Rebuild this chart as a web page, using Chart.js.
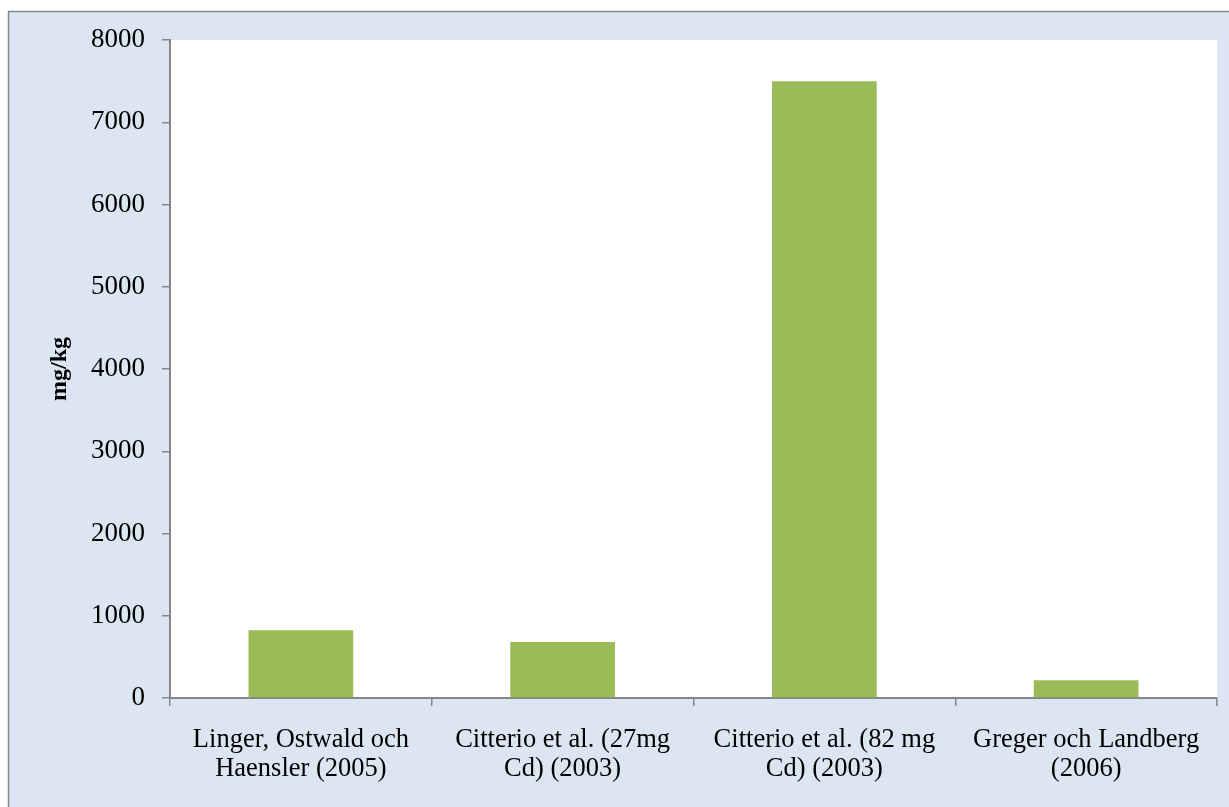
<!DOCTYPE html>
<html>
<head>
<meta charset="utf-8">
<script src="https://cdn.jsdelivr.net/npm/chart.js@4/dist/chart.umd.min.js"></script>
<style>
  html, body { margin: 0; padding: 0; background: #ffffff; }
  #wrap { width: 1229px; height: 807px; position: relative; }
</style>
</head>
<body>
<div id="wrap"><canvas id="c" width="1229" height="807"></canvas></div>
<script>
// Cadmium concentrations reported per study
const categories = [
  ['Linger, Ostwald och', 'Haensler (2005)'],
  ['Citterio et al. (27mg', 'Cd) (2003)'],
  ['Citterio et al. (82 mg', 'Cd) (2003)'],
  ['Greger och Landberg', '(2006)']
];
const values = [825, 680, 7500, 215];
const yTicks = [0, 1000, 2000, 3000, 4000, 5000, 6000, 7000, 8000];
const yTitle = 'mg/kg';

const serif = '"Liberation Serif", "Times New Roman", serif';

// Pale blue chart frame with a grey outline, white plot area inside it
const framePlugin = {
  id: 'frame',
  beforeDraw(chart) {
    const ctx = chart.ctx;
    const a = chart.chartArea;
    ctx.save();
    ctx.fillStyle = '#dce6f2';
    ctx.fillRect(8, 11, chart.width - 8, chart.height - 11);
    ctx.strokeStyle = '#868686';
    ctx.lineWidth = 1.5;
    ctx.beginPath();
    ctx.moveTo(8.5, chart.height);
    ctx.lineTo(8.5, 11.5);
    ctx.lineTo(chart.width, 11.5);
    ctx.stroke();
    ctx.fillStyle = '#ffffff';
    ctx.fillRect(a.left, a.top, a.right - a.left, a.bottom - a.top);
    ctx.restore();
  }
};

new Chart(document.getElementById('c'), {
  type: 'bar',
  data: {
    labels: categories,
    datasets: [{
      data: values,
      backgroundColor: '#9bbb59',
      borderWidth: 0,
      barPercentage: 0.4,
      categoryPercentage: 1.0
    }]
  },
  options: {
    responsive: false,
    animation: false,
    devicePixelRatio: 1,
    layout: { padding: { top: 40, right: 12, left: 0, bottom: 0 } },
    plugins: {
      legend: { display: false },
      tooltip: { enabled: false }
    },
    scales: {
      x: {
        grid: {
          offset: true,
          drawOnChartArea: false,
          drawTicks: true,
          tickLength: 8,
          color: '#868686',
          lineWidth: 1.5
        },
        border: { color: '#868686', width: 2 },
        ticks: {
          color: '#000000',
          font: { family: serif, size: 26.5, lineHeight: 1.12 },
          maxRotation: 0,
          minRotation: 0,
          padding: 19,
          autoSkip: false
        },
        afterFit(scale) { scale.height = 109; }
      },
      y: {
        min: 0,
        max: 8000,
        afterBuildTicks(scale) { scale.ticks = yTicks.map(v => ({ value: v })); },
        grid: {
          drawOnChartArea: false,
          drawTicks: true,
          tickLength: 8,
          color: '#868686',
          lineWidth: 1.5
        },
        border: { color: '#868686', width: 2 },
        ticks: {
          color: '#000000',
          font: { family: serif, size: 27 },
          padding: 17,
          callback: v => String(v)
        },
        title: {
          display: true,
          text: yTitle,
          color: '#000000',
          font: { family: serif, size: 24, weight: 'bold', lineHeight: 1.2 },
          padding: { top: 45, bottom: 0 }
        },
        afterFit(scale) { scale.width = 170; }
      }
    }
  },
  plugins: [framePlugin]
});
</script>
</body>
</html>
